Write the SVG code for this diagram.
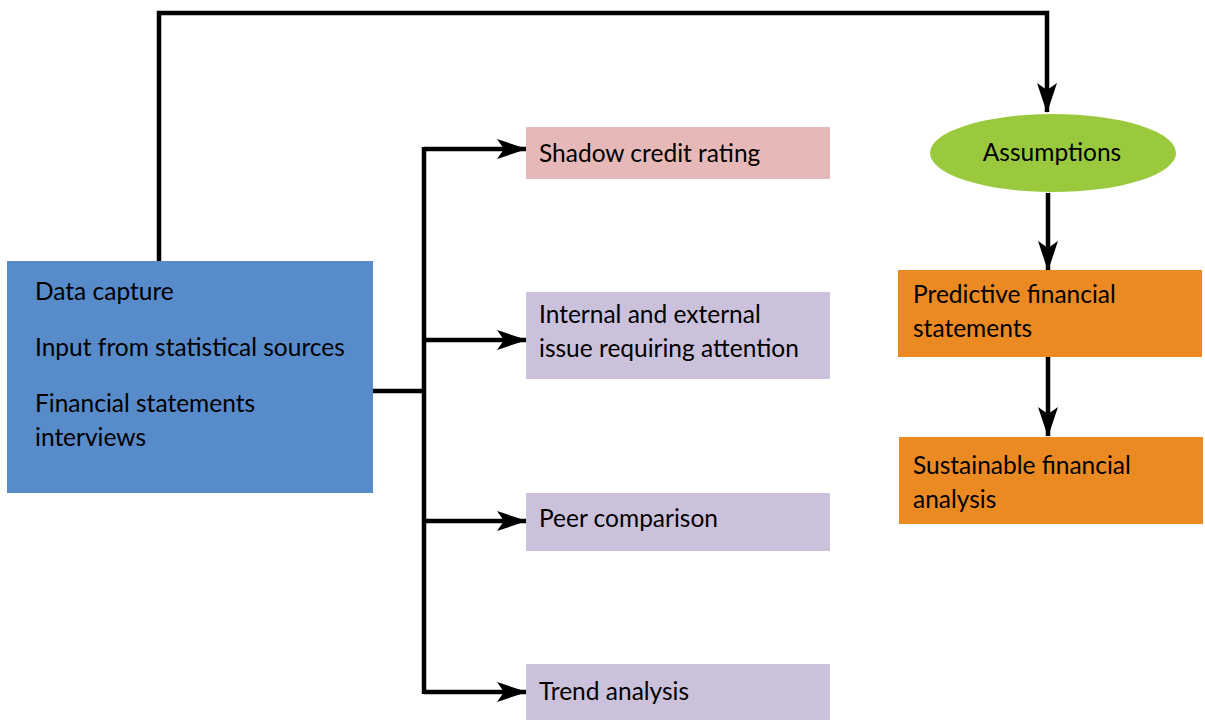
<svg xmlns="http://www.w3.org/2000/svg" width="1205" height="720" viewBox="0 0 1205 720">
<style>
.t{font-family:Lato,"Open Sans","Liberation Sans",sans-serif;font-size:24.5px;fill:#000}
.c{fill:none;stroke:#000;stroke-width:4.5}
</style>
<defs>
<marker id="ah" viewBox="0 0 30 20" markerWidth="30" markerHeight="20" markerUnits="userSpaceOnUse" refX="29" refY="10" orient="auto">
<path d="M0,0 L30,10 L0,20 L7,10 Z" fill="#000"/>
</marker>
</defs>
<rect width="1205" height="720" fill="#fff"/>
<g id="connectors">
<polyline class="c" points="159,261 159,13 1047,13 1047,112" marker-end="url(#ah)"/>
<line class="c" x1="373" y1="391" x2="424" y2="391"/>
<line class="c" x1="424" y1="147" x2="424" y2="694"/>
<polyline class="c" points="424,149 526,149" marker-end="url(#ah)"/>
<polyline class="c" points="424,340 526,340" marker-end="url(#ah)"/>
<polyline class="c" points="424,521 526,521" marker-end="url(#ah)"/>
<polyline class="c" points="424,692 526,692" marker-end="url(#ah)"/>
<line class="c" x1="1048" y1="193" x2="1048" y2="270" marker-end="url(#ah)"/>
<line class="c" x1="1048" y1="357" x2="1048" y2="436" marker-end="url(#ah)"/>
</g>
<g id="data">
<rect x="7" y="261" width="366" height="232" fill="#588bca"/>
<text class="t" x="35" y="300">Data capture</text>
<text class="t" x="35" y="356">Input from statistical sources</text>
<text class="t" x="35" y="412">Financial statements</text>
<text class="t" x="35" y="446">interviews</text>
</g>
<g id="shadow">
<rect x="526" y="127" width="304" height="52" fill="#e6b9b8"/>
<text class="t" x="539" y="162">Shadow credit rating</text>
</g>
<g id="internal">
<rect x="526" y="292" width="304" height="87" fill="#ccc1da"/>
<text class="t" x="539" y="323">Internal and external</text>
<text class="t" x="539" y="357">issue requiring attention</text>
</g>
<g id="peer">
<rect x="526" y="493" width="304" height="58" fill="#ccc1da"/>
<text class="t" x="539" y="527">Peer comparison</text>
</g>
<g id="trend">
<rect x="526" y="664" width="304" height="56" fill="#ccc1da"/>
<text class="t" x="539" y="700">Trend analysis</text>
</g>
<g id="assumptions">
<ellipse cx="1053" cy="153" rx="123" ry="39" fill="#9ac93e"/>
<text class="t" x="1052" y="161" text-anchor="middle">Assumptions</text>
</g>
<g id="predictive">
<rect x="898" y="270" width="304" height="87" fill="#eb8a22"/>
<text class="t" x="913" y="303">Predictive financial</text>
<text class="t" x="913" y="337">statements</text>
</g>
<g id="sustainable">
<rect x="899" y="437" width="304" height="87" fill="#eb8a22"/>
<text class="t" x="913" y="474">Sustainable financial</text>
<text class="t" x="913" y="508">analysis</text>
</g>
</svg>
